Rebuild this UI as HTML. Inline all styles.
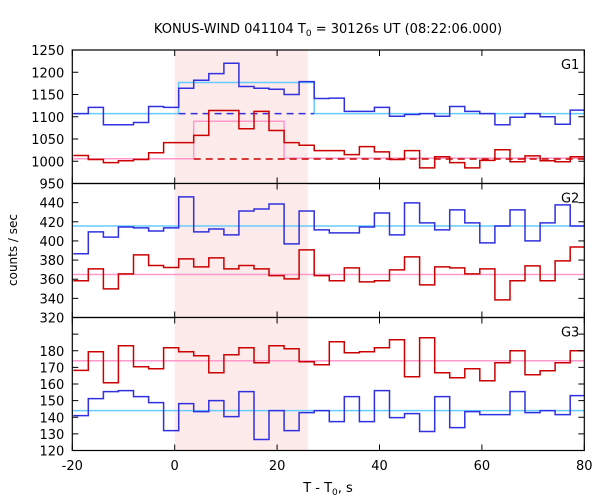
<!DOCTYPE html>
<html><head><meta charset="utf-8"><style>
body{margin:0;background:#fff;}
svg{display:block;font-family:"DejaVu Sans","Liberation Sans",sans-serif;}
</style></head><body>
<svg id="chart" width="600" height="500" viewBox="0 0 600 500" xmlns="http://www.w3.org/2000/svg">
<text x="328" y="33" font-size="13" text-anchor="middle" fill="#000">KONUS-WIND 041104 T<tspan font-size="9" dy="3">0</tspan><tspan dy="-3"> = 30126s UT (08:22:06.000)</tspan></text>
<text x="0" y="0" font-size="12" text-anchor="middle" transform="translate(17,250) rotate(-90)" fill="#000">counts / sec</text>
<text x="328" y="492" font-size="13" text-anchor="middle" fill="#000">T - T<tspan font-size="9" dy="3">0</tspan><tspan dy="-3">, s</tspan></text>
</svg>
<script>
// ---- data ----
const binStart0 = -19.81;
const binWidth = 2.941;
const g1Blue = [1107,1121,1082,1082,1087,1123,1121,1164,1182,1197,1220,1168,1164,1162,1150,1179,1141,1142,1112,1112,1121,1101,1105,1107,1101,1123,1112,1107,1082,1099,1107,1100,1083,1115];
const g1Red = [1013,1004,997,1001,1004,1019,1042,1042,1058,1114,1114,1073,1112,1069,1042,1036,1024,1024,1015,1033,1021,1004,1024,985,1010,997,985,1002,1026,999,1012,1001,999,1010];
const g2Blue = [386.5,409.4,404,414.6,413.6,410.4,413.6,446,409.4,412.5,406.3,431.3,433.4,438.6,396.9,431.3,411.5,408.4,408.4,414.6,429.2,406.3,439.7,418.8,411.5,432.4,418.8,397.9,415.6,432.4,400,418.8,437.6,415.6];
const g2Red = [358.3,370.8,349.9,365.6,385.4,374.3,372.2,381.2,372.9,382.3,370.8,374.3,370.8,363.8,360.3,390.6,363.8,358.3,371.8,357.2,358.3,369.7,383.3,354.1,372.9,371.8,365.6,370.8,338.4,358.3,373.9,358.3,379.1,393.7];
const g3Red = [168.2,179.4,160.8,183,170.4,169.2,181.8,179.4,177,166.8,177.6,181.8,172.8,183,181.2,173.4,171.6,185.4,178.8,179.4,181.8,186.6,164.4,187.8,166.8,163.8,169.2,162,172.8,180,165.6,168,172.8,180];
const g3Blue = [141,151.2,155.4,156,152.4,148.8,132,148.2,143.4,150,140.4,155.4,126.6,144,132,142.8,144,137.4,152.4,137.4,156,139.8,142.2,131.4,152.4,133.8,143.4,141.6,141.6,155.4,142.8,144,141.6,153];
// background levels: [tStart, tEnd, value]
const g1CyanBg = [[-20,0.77,1107],[0.77,27.24,1177],[27.24,80,1107]];
const g1BlueDash = [[0.77,27.24,1107]];
const g1PinkBg = [[-20,3.71,1005.6],[3.71,21.36,1090],[21.36,80,1007]];
const g1RedDash = [[3.71,80,1005]];
const g2CyanBg = [[-20,80,415.6]];
const g2PinkBg = [[-20,80,364.9]];
const g3CyanBg = [[-20,80,144]];
const g3PinkBg = [[-20,80,174]];
const xTicks = [-20,0,20,40,60,80];
const g1Ticks = [950,1000,1050,1100,1150,1200,1250];
const g2Ticks = [320,340,360,380,400,420,440];
const g3Ticks = [120,130,140,150,160,170,180];
const shade = [0,26];

const NS='http://www.w3.org/2000/svg';
const svg=document.getElementById('chart');
const L=72.3,R=584.3;
function xs(t){return L+(t+20)*(R-L)/100;}
function mk(tag,attrs,parent){const e=document.createElementNS(NS,tag);for(const k in attrs)e.setAttribute(k,attrs[k]);(parent||svg).appendChild(e);return e;}

const panels=[
 {name:'g1',top:50,bot:183.5,min:950,max:1250,ticks:g1Ticks,minor:[],label:'G1',
  series:[{d:g1Blue,c:'#3030e0'},{d:g1Red,c:'#cc0000'}],
  bg:[{d:g1CyanBg,c:'#66ccff',dash:null},{d:g1PinkBg,c:'#ff99cc',dash:null},{d:g1BlueDash,c:'#3030e0',dash:'7,5'},{d:g1RedDash,c:'#cc0000',dash:'7,5'}]},
 {name:'g2',top:183.5,bot:317.5,min:320,max:460,ticks:g2Ticks,minor:[460],label:'G2',
  series:[{d:g2Blue,c:'#3030e0'},{d:g2Red,c:'#cc0000'}],
  bg:[{d:g2CyanBg,c:'#66ccff'},{d:g2PinkBg,c:'#ff99cc'}]},
 {name:'g3',top:317.5,bot:450.5,min:120,max:200,ticks:g3Ticks,minor:[190],label:'G3',
  series:[{d:g3Red,c:'#cc0000'},{d:g3Blue,c:'#3030e0'}],
  bg:[{d:g3CyanBg,c:'#66ccff'},{d:g3PinkBg,c:'#ff99cc'}]}
];

panels.forEach((p,pi)=>{
 const ys=v=>p.bot-(v-p.min)*(p.bot-p.top)/(p.max-p.min);
 const g=mk('g',{});
 
 
 const cid='clip'+pi;
 const cp=mk('clipPath',{id:cid},g);mk('rect',{x:L,y:p.top,width:R-L,height:p.bot-p.top},cp);
 const sh=mk('rect',{x:xs(shade[0]),y:p.top,width:xs(shade[1])-xs(shade[0]),height:p.bot-p.top,fill:'#fdeaea'},g);
 
 
 const cg=mk('g',{'clip-path':'url(#'+cid+')'},g);
 p.bg.forEach(b=>{
  let d='';b.d.forEach((s,i)=>{d+=(i===0?'M':'L')+xs(s[0]).toFixed(1)+','+ys(s[2]).toFixed(1)+'L'+xs(s[1]).toFixed(1)+','+ys(s[2]).toFixed(1);});
  const e=mk('path',{d:d,fill:'none',stroke:b.c,'stroke-width':1.5},cg);
  if(b.dash)e.setAttribute('stroke-dasharray',b.dash);
  
  
 });
 p.series.forEach(s=>{
  let d='';s.d.forEach((v,k)=>{const t0=binStart0+k*binWidth,t1=t0+binWidth;
   d+=(k===0?'M':'L')+xs(t0).toFixed(1)+','+ys(v).toFixed(1)+'L'+xs(t1).toFixed(1)+','+ys(v).toFixed(1);});
  const e=mk('path',{d:d,fill:'none',stroke:s.c,'stroke-width':1.5},cg);
  
  
 });
 const fr=mk('rect',{x:L,y:p.top,width:R-L,height:p.bot-p.top,fill:'none',stroke:'#000','stroke-width':1.2},g);
 
 
 p.ticks.concat(p.minor).forEach(v=>{const y=ys(v);
  mk('line',{x1:L,y1:y,x2:L+6,y2:y,stroke:'#000'},g);mk('line',{x1:R-6,y1:y,x2:R,y2:y,stroke:'#000'},g);});
 p.ticks.forEach(v=>{
  const t=mk('text',{x:L-8,y:ys(v)+5,'font-size':13,'text-anchor':'end',fill:'#000'},g);t.textContent=v;
  
  
 });
 xTicks.forEach(v=>{const x=xs(v);
  mk('line',{x1:x,y1:p.top,x2:x,y2:p.top+6,stroke:'#000'},g);mk('line',{x1:x,y1:p.bot-6,x2:x,y2:p.bot,stroke:'#000'},g);});
 const lb=mk('text',{x:R-5,y:p.top+19,'font-size':13,'text-anchor':'end',fill:'#000'},g);lb.textContent=p.label;
 
 
});
xTicks.forEach(v=>{
 const t=mk('text',{x:xs(v),y:470,'font-size':13,'text-anchor':'middle',fill:'#000'});t.textContent=v;
 
 
});
</script>
</body></html>
